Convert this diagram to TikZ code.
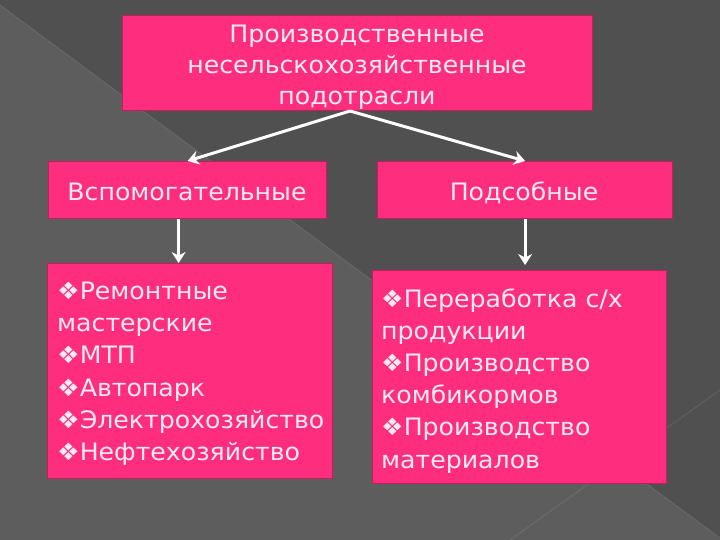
\documentclass[tikz,border=0pt]{standalone}
\usepackage{fontspec}
\usetikzlibrary{arrows.meta,calc}
\newfontfamily\cg[FakeStretch=1.05]{DejaVu Sans}
\definecolor{bgmid}{HTML}{5D5D5D}
\definecolor{bgdark}{HTML}{505050}
\definecolor{pinkfill}{HTML}{FF2D7E}
\definecolor{pinkedge}{HTML}{C41E5A}
\definecolor{txt}{HTML}{FDEAF2}
\begin{document}
\begin{tikzpicture}[x=1pt,y=-1pt,
  box/.style={draw=pinkedge, line width=1.2pt, fill=pinkfill, inner sep=0pt, anchor=north west},
  lbl/.style={text=txt, font=\cg\fontsize{24}{32}\selectfont, inner sep=0pt},
  arr/.style={draw=white, line width=3pt, -{Stealth[length=11pt,width=14pt,inset=3.5pt]}}]
\useasboundingbox (0,0) rectangle (720,540);
% background
\fill[bgmid] (0,0) rectangle (720,540);
\fill[bgdark] (0,0) -- (720,0) -- (720,538) -- (0,5) -- cycle;
\draw[white, opacity=0.12, line width=0.8pt] (0,5) -- (720,538);
\draw[white, opacity=0.10, line width=0.8pt] (510,540) -- (720,390);
% boxes
\node[box, minimum width=470pt, minimum height=95pt] (top) at (122,15) {};
\node[box, minimum width=278pt, minimum height=57pt] (ml) at (48,161) {};
\node[box, minimum width=295pt, minimum height=57pt] (mr) at (377,161) {};
\node[box, minimum width=285pt, minimum height=215pt] (lb) at (47,263) {};
\node[box, minimum width=294pt, minimum height=213pt] (rb) at (372,270) {};
% title text
\node[lbl, anchor=base] (t1) at (357,43) {Производственные};
\node[lbl, anchor=base] (t2) at (357,74) {несельскохозяйственные};
\node[lbl, anchor=base] (t3) at (357,105) {подотрасли};
% middle texts
\node[lbl, anchor=base] (mlt) at (187,201) {Вспомогательные};
\node[lbl, anchor=base] (mrt) at (524,201) {Подсобные};
% left list
\node[lbl, anchor=base west] (a1) at (57,299) {❖Ремонтные};
\node[lbl, anchor=base west] (a2) at (57,331) {мастерские};
\node[lbl, anchor=base west] (a3) at (57,363) {❖МТП};
\node[lbl, anchor=base west] (a4) at (57,396) {❖Автопарк};
\node[lbl, anchor=base west] (a5) at (57,428) {❖Электрохозяйство};
\node[lbl, anchor=base west] (a6) at (57,460) {❖Нефтехозяйство};
% right list
\node[lbl, anchor=base west] (b1) at (381,307) {❖Переработка с/х};
\node[lbl, anchor=base west] (b2) at (381,339) {продукции};
\node[lbl, anchor=base west] (b3) at (381,371) {❖Производство};
\node[lbl, anchor=base west] (b4) at (381,403) {комбикормов};
\node[lbl, anchor=base west] (b5) at (381,435) {❖Производство};
\node[lbl, anchor=base west] (b6) at (381,468) {материалов};
% connectors
\coordinate (fork) at (350,111);
\draw[arr] (fork) -- (ml.north);
\draw[arr] (fork) -- (mr.north);
\draw[arr] ([xshift=-9pt]ml.south) -- ([xshift=-9pt]ml.south |- lb.north);
\draw[arr, shorten >=5pt] (mr.south) -- (mr.south |- rb.north);
\end{tikzpicture}
\end{document}
